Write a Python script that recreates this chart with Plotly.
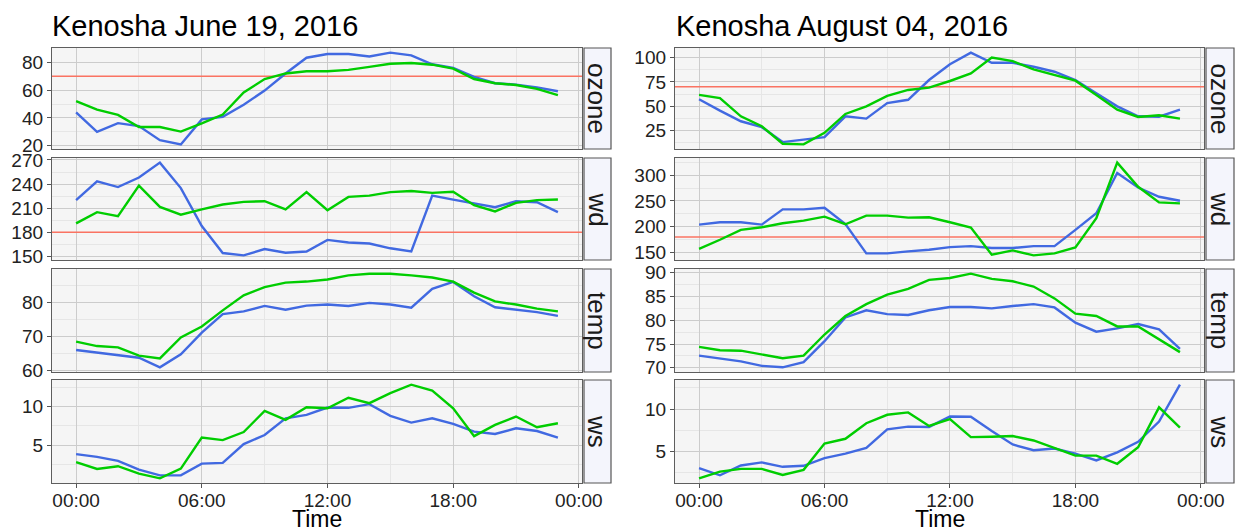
import plotly.graph_objects as go

# ---------------- data ----------------
hours = list(range(24))
x_tickvals = [0, 6, 12, 18, 24]
x_ticktext = ["00:00", "06:00", "12:00", "18:00", "00:00"]

titles = ["Kenosha June 19, 2016", "Kenosha August 04, 2016"]
variables = ["ozone", "wd", "temp", "ws"]
thresholds = {"ozone": 70, "wd": 180}

# June 19, 2016 (blue = series A, green = series B)
jun_ozone_a = [44.1, 30, 36.3, 34.2, 24, 21, 39, 40.8, 49.5, 59.7, 72, 83.3,
               86, 86, 84.2, 87, 85, 78.6, 76, 69.6, 65, 64, 62, 59.2]
jun_ozone_b = [52.1, 46, 42.2, 33.5, 33.5, 30.2, 36.1, 42.5, 58.3, 68, 72, 73.6,
               73.6, 74.6, 76.7, 79, 79.5, 78.3, 75.5, 68, 65, 63.7, 60.9, 56.4]
jun_wd_a = [219.9, 243.3, 236.3, 248.2, 266.7, 235, 187.8, 154.1, 151.2, 159, 154.5, 156,
            170.5, 167.3, 166, 160, 156, 225.6, 220.7, 215.7, 211.2, 218.6, 217.4, 205]
jun_wd_b = [191, 205, 200, 238, 211.6, 201.8, 208.4, 214.5, 217.8, 218.6, 208.4, 230,
            207.5, 224, 225.6, 230, 231.4, 229, 230.5, 213.7, 205.9, 216.6, 220, 220.7]
jun_temp_a = [66.05, 65.3, 64.4, 63.8, 61, 64.8, 71.1, 76.5, 77.3, 78.9, 77.8, 79,
              79.3, 78.9, 79.8, 79.3, 78.4, 83.9, 85.9, 81.7, 78.5, 77.9, 77.1, 76]
jun_temp_b = [68.5, 67.2, 66.8, 64.4, 63.6, 69.7, 72.9, 77.6, 82, 84.4, 85.7, 86,
              86.6, 87.8, 88.3, 88.3, 87.8, 87.2, 86, 82.8, 80.2, 79.3, 78.1, 77.3]
jun_ws_a = [3.88, 3.53, 3.02, 1.9, 1.16, 1.16, 2.67, 2.76, 5.17, 6.34, 8.49, 8.92,
            9.87, 9.83, 10.3, 8.8, 7.93, 8.49, 7.76, 6.77, 6.47, 7.2, 6.85, 6.0]
jun_ws_b = [2.85, 1.98, 2.33, 1.38, 0.78, 2.03, 6.0, 5.69, 6.72, 9.44, 8.28, 9.91,
            9.78, 11.12, 10.43, 11.72, 12.8, 12.03, 9.78, 6.2, 7.63, 8.71, 7.33, 7.85]

# August 04, 2016
aug_ozone_a = [57.2, 45.4, 34.5, 28.4, 13.1, 15.8, 18.2, 39.6, 37.2, 53.2, 56.6, 76.9,
               93.2, 105.1, 94.6, 94.6, 90.5, 85.4, 76.9, 63.3, 49.8, 39.6, 39.2, 46.4]
aug_ozone_b = [61.6, 58.3, 39.6, 29.4, 11.4, 10.7, 22.6, 42, 49.8, 60.6, 66.7, 69.1,
               75.9, 83.7, 100, 96.3, 87.8, 82, 76.2, 61.6, 46.4, 38.9, 40.6, 37.2]
aug_wd_a = [204, 208.6, 208.6, 204, 233.7, 233.7, 236.9, 205, 148, 148, 151.9, 155.1,
            160.3, 162.2, 158.4, 158.4, 162.2, 162.2, 193.8, 226, 304.5, 276.2, 258.2, 250.4]
aug_wd_b = [157, 174.5, 193.8, 198.9, 206.6, 211.8, 219.5, 204.7, 221.5, 221.5, 217.6, 218.2,
            208.6, 198.3, 145.5, 153.9, 144.2, 148, 159.6, 216.3, 324.5, 277.5, 247.2, 245.3]
aug_temp_a = [72.55, 72, 71.35, 70.4, 70.1, 71.2, 75.6, 80.6, 82.1, 81.3, 81.1, 82.1,
              82.8, 82.8, 82.5, 83, 83.4, 82.7, 79.5, 77.6, 78.3, 79.2, 78.1, 74]
aug_temp_b = [74.4, 73.7, 73.6, 72.8, 72, 72.55, 77, 80.9, 83.4, 85.4, 86.6, 88.5,
              88.9, 89.8, 88.7, 88.2, 87.1, 84.6, 81.4, 80.9, 78.7, 78.7, 76, 73.3]
aug_ws_a = [3.0, 2.16, 3.32, 3.68, 3.16, 3.28, 4.2, 4.72, 5.4, 7.6, 7.92, 7.88,
            9.12, 9.08, 7.4, 5.8, 5.12, 5.32, 4.72, 3.92, 4.88, 6.12, 8.52, 12.88]
aug_ws_b = [1.8, 2.6, 2.92, 2.92, 2.2, 2.8, 5.92, 6.48, 8.32, 9.32, 9.6, 8.0,
            8.8, 6.68, 6.72, 6.8, 6.28, 5.4, 4.48, 4.48, 3.52, 5.48, 10.2, 7.8]

columns = [
    {"ozone": (jun_ozone_a, jun_ozone_b), "wd": (jun_wd_a, jun_wd_b),
     "temp": (jun_temp_a, jun_temp_b), "ws": (jun_ws_a, jun_ws_b)},
    {"ozone": (aug_ozone_a, aug_ozone_b), "wd": (aug_wd_a, aug_wd_b),
     "temp": (aug_temp_a, aug_temp_b), "ws": (aug_ws_a, aug_ws_b)},
]
y_dticks = [{"ozone": 20, "wd": 30, "temp": 10, "ws": 5},
            {"ozone": 25, "wd": 50, "temp": 5, "ws": 5}]

# ---------------- layout geometry ----------------
W, H = 1239, 531
FONT = "Liberation Sans, Arial, sans-serif"
col_px = [(52, 582), (675, 1204)]
strip_px = [(584, 611), (1206, 1234)]
row_px = [(48, 149), (158, 260), (269, 372), (380, 483)]
title_x = [50, 674]

COLOR_A = "#4169E1"
COLOR_B = "#00CD00"
COLOR_REF = "#FA7362"


def px_x(p):
    return p / W


def px_y(p):
    return 1 - p / H


fig = go.Figure()
shapes = []
annotations = []
layout = {}

xr = [-0.05 * 23, 23 + 0.05 * 23]

for c in range(2):
    for r, var in enumerate(variables):
        idx = c * 4 + r + 1
        xa = "x" if idx == 1 else f"x{idx}"
        ya = "y" if idx == 1 else f"y{idx}"
        a, b = columns[c][var]
        allv = a + b
        lo, hi = min(allv), max(allv)
        pad = 0.05 * (hi - lo)
        yr = [lo - pad, hi + pad]
        dt = y_dticks[c][var]

        if var in thresholds:
            fig.add_trace(go.Scatter(x=xr, y=[thresholds[var]] * 2, xaxis=xa, yaxis=ya,
                                     mode="lines", line=dict(color=COLOR_REF, width=1.5),
                                     showlegend=False, hoverinfo="skip", name="ref"))

        fig.add_trace(go.Scatter(x=hours, y=a, xaxis=xa, yaxis=ya, mode="lines",
                                 line=dict(color=COLOR_A, width=2.4), showlegend=False,
                                 name="A"))
        fig.add_trace(go.Scatter(x=hours, y=b, xaxis=xa, yaxis=ya, mode="lines",
                                 line=dict(color=COLOR_B, width=2.4), showlegend=False,
                                 name="B"))

        bottom = (r == 3)
        layout[f"xaxis{idx}"] = dict(
            domain=[px_x(col_px[c][0]), px_x(col_px[c][1])],
            anchor=ya, range=xr, automargin=False,
            tickmode="array", tickvals=x_tickvals, ticktext=x_ticktext,
            showticklabels=bottom, ticks="outside" if bottom else "",
            ticklen=4, tickwidth=1.2, tickcolor="#555555",
            ticklabelstandoff=-4,
            tickfont=dict(family=FONT, size=19, color="#222222"),
            showgrid=True, gridcolor="#CCCCCC", gridwidth=1.3,
            minor=dict(tickmode="array", tickvals=[3, 9, 15, 21], showgrid=True,
                       gridcolor="#E6E6E6", gridwidth=1, ticks=""),
            showline=True, mirror=True, linecolor="#5E5E5E", linewidth=1.3,
            zeroline=False, fixedrange=True,
        )
        layout[f"yaxis{idx}"] = dict(
            domain=[px_y(row_px[r][1]), px_y(row_px[r][0])],
            anchor=xa, range=yr, automargin=False,
            tickmode="linear", tick0=0, dtick=dt,
            ticks="outside", ticklen=4, tickwidth=1.2, tickcolor="#555555",
            tickfont=dict(family=FONT, size=19, color="#222222"),
            showgrid=True, gridcolor="#CCCCCC", gridwidth=1.3,
            minor=dict(tick0=0, dtick=dt / 2, showgrid=True, gridcolor="#E6E6E6",
                       gridwidth=1, ticks=""),
            showline=True, mirror=True, linecolor="#5E5E5E", linewidth=1.3,
            zeroline=False, fixedrange=True,
        )

        # strip
        shapes.append(dict(type="rect", xref="paper", yref="paper",
                           x0=px_x(strip_px[c][0]), x1=px_x(strip_px[c][1]),
                           y0=px_y(row_px[r][1]), y1=px_y(row_px[r][0]),
                           fillcolor="#F4F5FC", line=dict(color="#555555", width=1.2)))
        annotations.append(dict(text=var, xref="paper", yref="paper",
                                x=px_x((strip_px[c][0] + strip_px[c][1]) / 2),
                                y=px_y((row_px[r][0] + row_px[r][1]) / 2),
                                textangle=90, showarrow=False,
                                xanchor="center", yanchor="middle",
                                font=dict(family=FONT, size=26, color="#1a1a1a")))

    # column title
    annotations.append(dict(text=titles[c], xref="paper", yref="paper",
                            x=px_x(title_x[c]), y=px_y(26), xanchor="left", yanchor="middle",
                            showarrow=False, font=dict(family=FONT, size=29, color="#000000")))
    # x-axis title
    annotations.append(dict(text="Time", xref="paper", yref="paper",
                            x=px_x((col_px[c][0] + col_px[c][1]) / 2), y=px_y(519),
                            xanchor="center", yanchor="middle", showarrow=False,
                            font=dict(family=FONT, size=23, color="#000000")))

fig.update_layout(
    width=W, height=H,
    margin=dict(l=0, r=0, t=0, b=0, autoexpand=False),
    paper_bgcolor="white", plot_bgcolor="#F5F5F5",
    shapes=shapes, annotations=annotations,
    showlegend=False,
    **layout,
)

fig.write_html("out.html", config={"displayModeBar": False},
               post_script="document.body.style.margin='0';document.body.style.overflow='hidden';")
